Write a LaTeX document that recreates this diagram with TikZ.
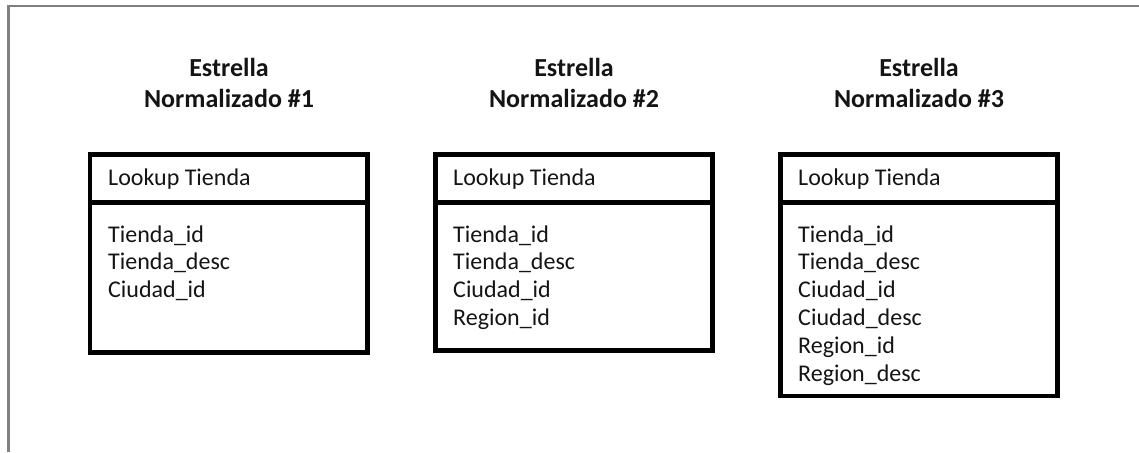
\documentclass[tikz,border=0pt]{standalone}
\usepackage{fontspec}
\setmainfont{Carlito}
\definecolor{framegray}{RGB}{128,128,128}
\definecolor{textblack}{RGB}{20,20,20}
\tikzset{
  x=1pt, y=-1pt,
  tablebox/.style={draw=black, line width=4.5pt, line join=miter},
  divider/.style={draw=black, line width=4.5pt},
  titletext/.style={font=\fontsize{26}{30}\selectfont\bfseries, text=textblack, inner sep=0pt, anchor=base, align=center},
  fieldtext/.style={font=\fontsize{24}{27}\selectfont, text=textblack, inner sep=0pt, anchor=base west},
  frameline/.style={draw=framegray, line width=2.5pt}
}
\begin{document}
\begin{tikzpicture}
\useasboundingbox (0,0) rectangle (1139,452);
% outer frame (top and left edges only)
\coordinate (ftl) at (8.5,6);
\coordinate (ftr) at (1139,6);
\coordinate (fbl) at (8.5,452);
\draw[frameline] (fbl) -- (ftl) -- (ftr);

% ---- Table 1 ----
\node[titletext] (t1a) at (229,77) {Estrella};
\node[titletext] (t1b) at (229,107) {Normalizado \#1};
\draw[tablebox] (90,154.5) rectangle (367.5,352.5);
\coordinate (d1l) at (90,202.5);
\coordinate (d1r) at (367.5,202.5);
\draw[divider] (d1l) -- (d1r);
\node[fieldtext] (h1) at (108,185) {Lookup Tienda};
\node[fieldtext] (f1a) at (108,242) {Tienda\_id};
\node[fieldtext] (f1b) at (108,269.8) {Tienda\_desc};
\node[fieldtext] (f1c) at (108,297.6) {Ciudad\_id};

% ---- Table 2 ----
\node[titletext] (t2a) at (574,77) {Estrella};
\node[titletext] (t2b) at (574,107) {Normalizado \#2};
\draw[tablebox] (435.5,154.5) rectangle (712.5,350.5);
\coordinate (d2l) at (435.5,202.5);
\coordinate (d2r) at (712.5,202.5);
\draw[divider] (d2l) -- (d2r);
\node[fieldtext] (h2) at (453,185) {Lookup Tienda};
\node[fieldtext] (f2a) at (453,242) {Tienda\_id};
\node[fieldtext] (f2b) at (453,269.8) {Tienda\_desc};
\node[fieldtext] (f2c) at (453,297.6) {Ciudad\_id};
\node[fieldtext] (f2d) at (453,325.4) {Region\_id};

% ---- Table 3 ----
\node[titletext] (t3a) at (919,77) {Estrella};
\node[titletext] (t3b) at (919,107) {Normalizado \#3};
\draw[tablebox] (780.5,154.5) rectangle (1057.5,396);
\coordinate (d3l) at (780.5,202.5);
\coordinate (d3r) at (1057.5,202.5);
\draw[divider] (d3l) -- (d3r);
\node[fieldtext] (h3) at (798,185) {Lookup Tienda};
\node[fieldtext] (f3a) at (798,242) {Tienda\_id};
\node[fieldtext] (f3b) at (798,269.8) {Tienda\_desc};
\node[fieldtext] (f3c) at (798,297.6) {Ciudad\_id};
\node[fieldtext] (f3d) at (798,325.4) {Ciudad\_desc};
\node[fieldtext] (f3e) at (798,353.2) {Region\_id};
\node[fieldtext] (f3f) at (798,381) {Region\_desc};
\end{tikzpicture}
\end{document}
